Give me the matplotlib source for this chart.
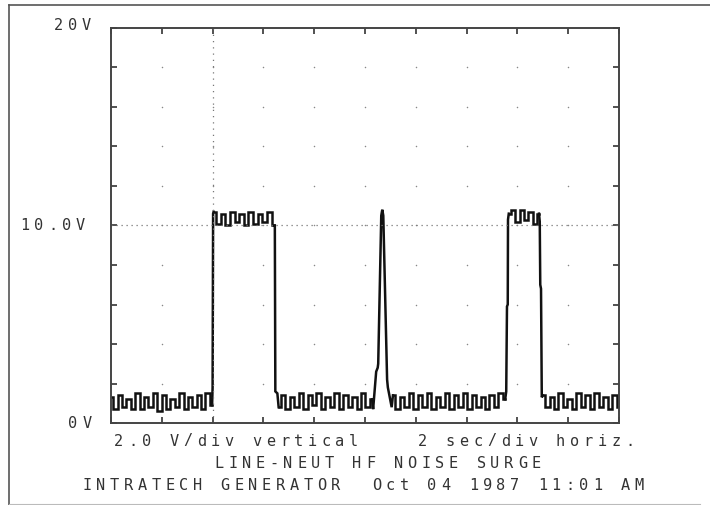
import numpy as np
import matplotlib
matplotlib.use("Agg")
import matplotlib.pyplot as plt
from matplotlib.lines import Line2D

# figure size in pixels
W, H = 710, 505

# scope settings: 10 divisions each way
T_DIV = 2.0      # sec/div
V_DIV = 2.0      # V/div
N_DIV = 10

# ripple segments (volts, evenly spaced in each segment)
seg_a_t = (0.0, 3.98)
seg_a_v = [1.3, 0.7, 1.4, 0.8, 1.2, 0.7, 1.5, 0.7, 1.3, 0.8, 1.5, 0.6,
           1.4, 0.7, 1.2, 0.8, 1.5, 0.7, 1.3, 0.8, 1.4, 0.7, 1.5, 0.9]

rise1_t = [3.98, 4.0, 4.02, 4.04]
rise1_v = [0.9, 1.8, 10.6, 10.7]

seg_b_t = (4.04, 6.42)
seg_b_v = [10.7, 10.1, 10.6, 10.0, 10.7, 10.2, 10.6, 10.0, 10.7, 10.1,
           10.6, 10.2, 10.7, 10.0]

fall1_t = [6.42, 6.45, 6.47, 6.55, 6.6]
fall1_v = [10.0, 10.0, 1.6, 1.5, 0.8]

seg_c_t = (6.6, 10.28)
seg_c_v = [0.8, 1.4, 0.7, 1.3, 0.8, 1.5, 0.7, 1.4, 0.9, 1.5, 0.7, 1.3,
           0.8, 1.5, 0.7, 1.4, 0.8, 1.3, 0.7, 1.5, 0.8, 1.2]

spike_t = [10.28, 10.32, 10.44, 10.50, 10.52, 10.64, 10.68, 10.72, 10.87,
           10.90, 11.05, 11.1]
spike_v = [1.2, 0.7, 2.6, 2.8, 3.0, 10.5, 10.8, 10.5, 2.2, 1.8, 0.8, 1.4]

seg_d_t = (11.1, 15.52)
seg_d_v = [1.4, 0.7, 1.3, 0.8, 1.5, 0.7, 1.4, 0.8, 1.5, 0.7, 1.3, 0.8,
           1.5, 0.7, 1.4, 0.8, 1.5, 0.7, 1.4, 0.8, 1.3, 0.7, 1.4, 0.8,
           1.5, 1.2]

rise2_t = [15.52, 15.56, 15.59, 15.62, 15.63, 15.66]
rise2_v = [1.2, 1.6, 5.9, 6.0, 10.3, 10.6]

seg_e_t = (15.66, 16.85)
seg_e_v = [10.6, 10.8, 10.2, 10.8, 10.3, 10.7, 10.1, 10.6]

fall2_t = [16.85, 16.88, 16.9, 16.93, 16.96, 17.0]
fall2_v = [10.6, 10.2, 7.0, 6.8, 1.3, 1.4]

seg_f_t = (17.0, 20.0)
seg_f_v = [1.4, 0.8, 1.3, 0.7, 1.5, 0.8, 1.2, 0.7, 1.5, 0.8, 1.4, 0.7,
           1.5, 0.8, 1.3, 0.7, 1.4, 0.8]

# text on the plot
y_labels = ["20V", "10.0V", "0V"]
footer = ["2.0 V/div vertical    2 sec/div horiz.",
          "LINE-NEUT HF NOISE SURGE",
          "INTRATECH GENERATOR  Oct 04 1987 11:01 AM"]

fig = plt.figure(figsize=(W / 100, H / 100), dpi=100)
fig.patch.set_facecolor("white")

# axes box in pixels: left 111, right 619, top 28, bottom 423
ax = fig.add_axes([111 / W, (H - 423) / H, 508 / W, 395 / H])
ax.set_xlim(0, N_DIV * T_DIV)
ax.set_ylim(0, N_DIV * V_DIV)

trace = dict(color="#111111", lw=1.8, solid_joinstyle="miter")
# noisy flat parts drawn blocky, edges drawn straight
for bounds, vals in [(seg_a_t, seg_a_v), (seg_b_t, seg_b_v), (seg_c_t, seg_c_v),
                     (seg_d_t, seg_d_v), (seg_e_t, seg_e_v), (seg_f_t, seg_f_v)]:
    ax.plot(np.linspace(bounds[0], bounds[1], len(vals)), vals,
            drawstyle="steps-mid", **trace)
for tt, vv in [(rise1_t, rise1_v), (fall1_t, fall1_v), (spike_t, spike_v),
               (rise2_t, rise2_v), (fall2_t, fall2_v)]:
    ax.plot(tt, vv, **trace)

# dotted reference lines and intersection dots
ax.axvline(2 * T_DIV, color="#777777", lw=0.9, ls=(0, (1, 4)))
ax.axhline(5 * V_DIV, color="#777777", lw=0.9, ls=(0, (1, 3)))
gx, gy = np.meshgrid(np.arange(1, N_DIV) * T_DIV, np.arange(1, N_DIV) * V_DIV)
ax.scatter(gx.ravel(), gy.ravel(), s=1.2, color="#888888", lw=0)

ax.set_xticks(np.arange(0, N_DIV + 1) * T_DIV)
ax.set_yticks(np.arange(0, N_DIV + 1) * V_DIV)
ax.tick_params(direction="in", length=4, width=1.2, color="#333333",
               top=True, right=True, labelbottom=False, labelleft=False)
for s in ax.spines.values():
    s.set_color("#444444")
    s.set_linewidth(1.4)


def plotter_text(x, y, s, pitch=13.8, size=11):
    # fixed-pitch text like the pen plotter, x/y in pixels from top left
    for i, ch in enumerate(s):
        if ch == " ":
            continue
        fig.text((x + i * pitch + pitch / 2) / W, 1 - y / H, ch,
                 ha="center", va="center", fontsize=size,
                 family="DejaVu Sans Mono", color="#333333")


plotter_text(52, 26, y_labels[0])
plotter_text(18, 226, y_labels[1])
plotter_text(66, 423, y_labels[2])

plotter_text(112, 441, footer[0])
plotter_text(212, 463, footer[1])
plotter_text(80, 485, footer[2])

# outer frame of the printout
fig.add_artist(Line2D([9 / W, 1], [1 - 5 / H, 1 - 5 / H], color="#555555", lw=1.2))
fig.add_artist(Line2D([9 / W, 9 / W], [0, 1 - 5 / H], color="#555555", lw=1.2))
fig.add_artist(Line2D([9 / W, 700 / W], [1 / H, 1 / H], color="#bbbbbb", lw=0.8))

fig.savefig("out.png", dpi=100, facecolor="white")
